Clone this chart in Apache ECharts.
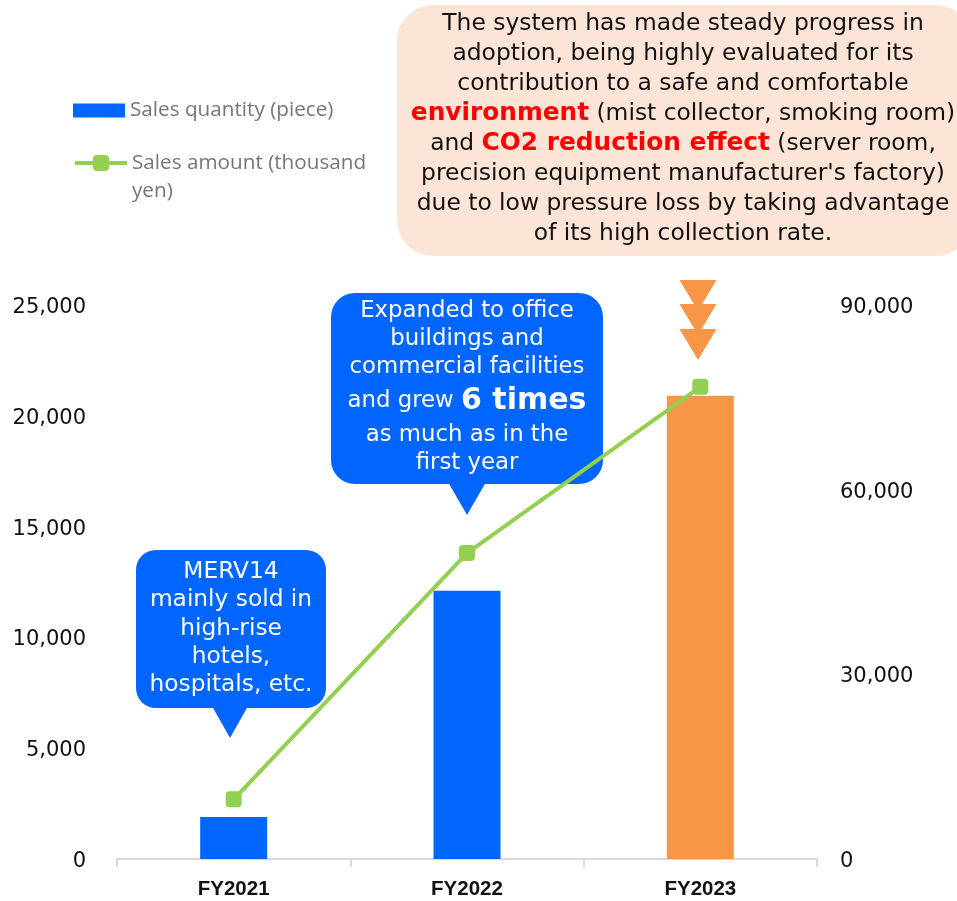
<!DOCTYPE html>
<html>
<head>
<meta charset="utf-8">
<script src="https://cdn.jsdelivr.net/npm/echarts@6/dist/echarts.min.js"></script>
<style>
  html, body { margin: 0; padding: 0; background: #ffffff; }
  #chart { width: 957px; height: 901px; }
</style>
</head>
<body>
<div id="chart"></div>
<script>
// Fiscal years on the category axis
const categories = ['FY2021', 'FY2022', 'FY2023'];
// Sales quantity (pieces), left axis
const salesQuantity = [1900, 12100, 20900];
// Sales amount (thousand yen), right axis
const salesAmount = [9700, 49700, 76700];

const quantityName = 'Sales quantity (piece)';
const amountName = 'Sales amount (thousand yen)';

const BLUE = '#0066FF';
const ORANGE = '#F79646';
const GREEN = '#92D050';
const PEACH = '#FCE4D6';
const SANS = '"DejaVu Sans", Verdana, sans-serif';
const LEGEND_FONT = '"Open Sans", sans-serif';

const chart = echarts.init(document.getElementById('chart'), null, { renderer: 'canvas' });

const fmt = v => Number(v).toLocaleString('en-US');

// value-axis labels sit a touch below their tick
const valueLabel = margin => ({
  color: '#111111', fontSize: 21, margin, fontFamily: SANS,
  verticalAlign: 'top', lineHeight: 5, formatter: fmt
});

const option = {
  backgroundColor: '#ffffff',
  animation: false,
  grid: { left: 117, right: 140, top: 305, bottom: 42 },
  legend: [
    {
      data: [quantityName],
      left: 73, top: 100, padding: 0,
      orient: 'vertical',
      icon: 'rect',
      itemWidth: 52, itemHeight: 14, itemGap: 6,
      textStyle: { color: '#767676', fontSize: 20.7, fontFamily: LEGEND_FONT }
    },
    {
      data: [amountName],
      left: 73, top: 121, padding: 0,
      orient: 'vertical',
      itemWidth: 52, itemHeight: 20, itemGap: 6,
      lineStyle: { width: 4 },
      // a blank first line keeps the caption's first line level with the icon
      formatter: () => ' \nSales amount (thousand\nyen)',
      textStyle: {
        color: '#767676', fontSize: 20.7, lineHeight: 28,
        fontFamily: LEGEND_FONT
      }
    }
  ],
  xAxis: {
    type: 'category',
    data: categories,
    axisLine: { lineStyle: { color: '#D9D9D9', width: 2 } },
    axisTick: { show: true, length: 8, lineStyle: { color: '#D9D9D9', width: 2 } },
    axisLabel: {
      color: '#111111', fontSize: 20.5, fontWeight: 'bold', margin: 20,
      fontFamily: '"Liberation Sans", Arial, sans-serif'
    }
  },
  yAxis: [
    {
      type: 'value', min: 0, max: 25000, interval: 5000,
      axisLine: { show: false }, axisTick: { show: false },
      splitLine: { show: false },
      axisLabel: valueLabel(31)
    },
    {
      type: 'value', min: 0, max: 90000, interval: 30000,
      axisLine: { show: false }, axisTick: { show: false },
      splitLine: { show: false },
      axisLabel: valueLabel(23)
    }
  ],
  series: [
    {
      name: quantityName,
      type: 'bar',
      yAxisIndex: 0,
      barWidth: 67,
      itemStyle: { color: BLUE },
      data: salesQuantity.map((v, i) =>
        i === salesQuantity.length - 1 ? { value: v, itemStyle: { color: ORANGE } } : v)
    },
    {
      name: amountName,
      type: 'line',
      yAxisIndex: 1,
      z: 5,
      symbol: 'roundRect',
      symbolSize: 16,
      lineStyle: { color: GREEN, width: 4 },
      itemStyle: { color: GREEN },
      data: salesAmount
    }
  ],
  graphic: [
    // Summary note, top right
    {
      type: 'rect', z: 1,
      shape: { x: 397, y: 5, width: 575, height: 251, r: 36 },
      style: { fill: PEACH }
    },
    {
      type: 'text', z: 2, x: 683, y: 9,
      style: {
        text: [
          'The system has made steady progress in',
          'adoption, being highly evaluated for its',
          'contribution to a safe and comfortable',
          '{r|environment} (mist collector, smoking room)',
          'and {r|CO2 reduction effect} (server room,',
          "precision equipment manufacturer's factory)",
          'due to low pressure loss by taking advantage',
          'of its high collection rate.'
        ].join('\n'),
        align: 'center', verticalAlign: 'top',
        fill: '#111111', fontSize: 23.4, lineHeight: 30, fontFamily: SANS,
        rich: {
          r: { fill: '#FF0000', fontWeight: 'bold', fontSize: 24.8, lineHeight: 30, fontFamily: SANS }
        }
      }
    },
    // FY2021 callout
    {
      type: 'rect', z: 3,
      shape: { x: 136, y: 550, width: 190, height: 158, r: 20 },
      style: { fill: BLUE }
    },
    {
      type: 'polygon', z: 3,
      shape: { points: [[212, 706], [248, 706], [230, 738]] },
      style: { fill: BLUE }
    },
    {
      type: 'text', z: 4, x: 231, y: 558,
      style: {
        text: 'MERV14\nmainly sold in\nhigh-rise\nhotels,\nhospitals, etc.',
        align: 'center', verticalAlign: 'top',
        fill: '#ffffff', fontSize: 23.3, lineHeight: 28.25, fontFamily: SANS
      }
    },
    // FY2022 callout
    {
      type: 'rect', z: 3,
      shape: { x: 331, y: 293, width: 272, height: 191, r: 24 },
      style: { fill: BLUE }
    },
    {
      type: 'polygon', z: 3,
      shape: { points: [[448, 482], [486, 482], [467, 515]] },
      style: { fill: BLUE }
    },
    {
      type: 'text', z: 4, x: 467, y: 297,
      style: {
        text: 'Expanded to office\nbuildings and\ncommercial facilities\n{n|and grew }{b|6 times}\nas much as in the\nfirst year',
        align: 'center', verticalAlign: 'top',
        fill: '#ffffff', fontSize: 22.8, lineHeight: 28, fontFamily: SANS,
        rich: {
          n: { fill: '#ffffff', fontSize: 22.8, lineHeight: 40, fontFamily: SANS },
          b: { fill: '#ffffff', fontSize: 30, fontWeight: 'bold', lineHeight: 40, fontFamily: SANS }
        }
      }
    },
    // Arrows above FY2023
    {
      type: 'polygon', z: 3,
      shape: { points: [[679.5, 280], [716.5, 280], [698, 311]] },
      style: { fill: ORANGE }
    },
    {
      type: 'polygon', z: 3,
      shape: { points: [[679.5, 304], [716.5, 304], [698, 335]] },
      style: { fill: ORANGE }
    },
    {
      type: 'polygon', z: 3,
      shape: { points: [[679.5, 329], [716.5, 329], [698, 360]] },
      style: { fill: ORANGE }
    }
  ]
};

chart.setOption(option);
</script>
</body>
</html>
